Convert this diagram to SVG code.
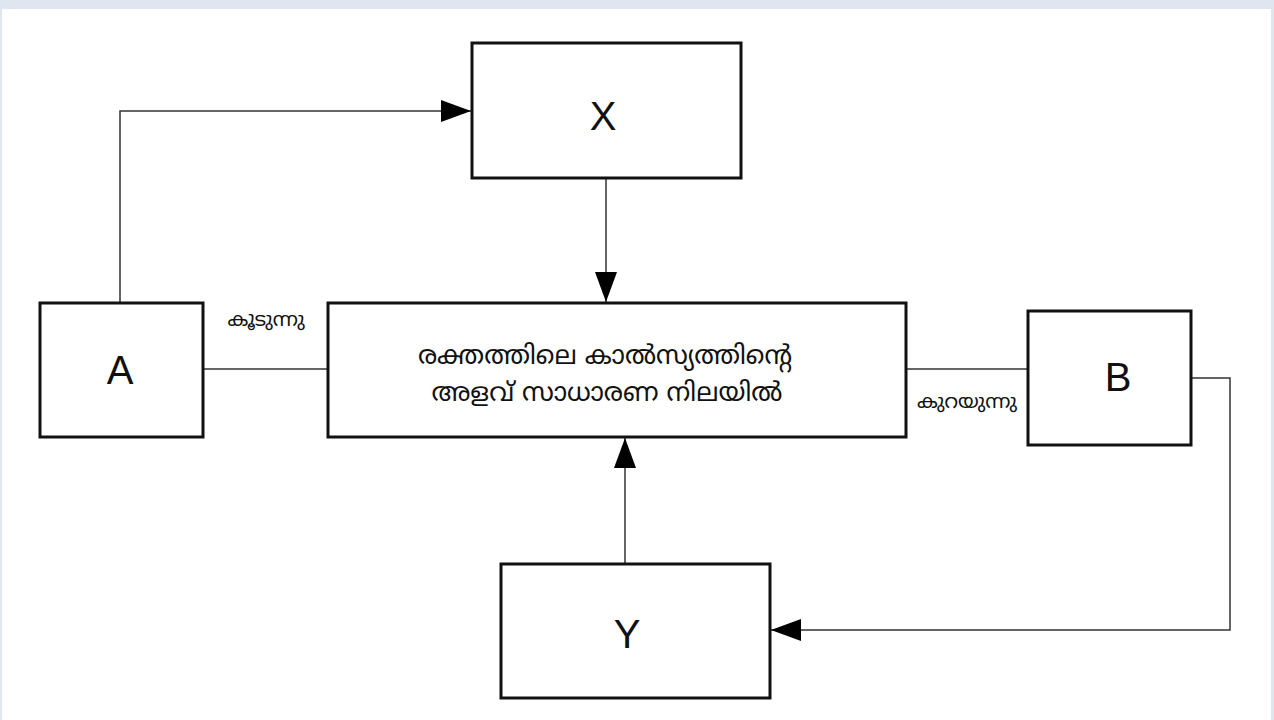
<svg xmlns="http://www.w3.org/2000/svg" width="1274" height="720" viewBox="0 0 1274 720">
<style>
.box{fill:#fff;stroke:#111;stroke-width:3}
.lat{font-family:"Liberation Sans",Arial,sans-serif;font-size:40px;fill:#111;text-anchor:middle}
.ml{font-family:"Noto Sans Malayalam","Noto Sans","DejaVu Sans",sans-serif;fill:#111;text-anchor:middle}
.ln{fill:none;stroke:#333;stroke-width:1.5}
</style>
<defs>
<marker id="ahv" markerWidth="30" markerHeight="22" refX="30" refY="11" orient="auto" markerUnits="userSpaceOnUse">
<path d="M0,0 L30,11 L0,22 Z" fill="#000"/>
</marker>
</defs>
<rect x="0" y="0" width="1274" height="720" fill="#dfe6f0"/>
<rect x="2" y="9" width="1269" height="711" fill="#fff"/>
<g id="connectors">
<polyline class="ln" points="120,302 120,111 471,111" marker-end="url(#ahv)"/>
<line class="ln" x1="606" y1="179" x2="606" y2="302" marker-end="url(#ahv)"/>
<line class="ln" x1="204" y1="369" x2="327" y2="369"/>
<line class="ln" x1="907" y1="369" x2="1027" y2="369"/>
<polyline class="ln" points="1192,378 1230,378 1230,630 771,630" marker-end="url(#ahv)"/>
<line class="ln" x1="625" y1="563" x2="625" y2="438" marker-end="url(#ahv)"/>
</g>
<g id="nodeX"><rect class="box" x="472" y="43" width="269" height="135"/><text class="lat" x="603" y="130">X</text></g>
<g id="nodeCenter"><rect class="box" x="328" y="303" width="578" height="134"/>
<text class="ml" x="605" y="364" font-size="26">രക്തത്തിലെ കാൽസ്യത്തിന്റെ</text>
<text class="ml" x="607" y="401" font-size="26">അളവ് സാധാരണ നിലയിൽ</text></g>
<g id="nodeA"><rect class="box" x="40" y="303" width="163" height="134"/><text class="lat" x="120" y="384">A</text></g>
<g id="nodeB"><rect class="box" x="1028" y="311" width="163" height="134"/><text class="lat" x="1118" y="391">B</text></g>
<g id="nodeY"><rect class="box" x="501" y="564" width="269" height="134"/><text class="lat" x="627" y="648">Y</text></g>
<g id="labels">
<text class="ml" x="266" y="326" font-size="20">കൂടുന്നു</text>
<text class="ml" x="967" y="408" font-size="20">കുറയുന്നു</text>
</g>
</svg>
